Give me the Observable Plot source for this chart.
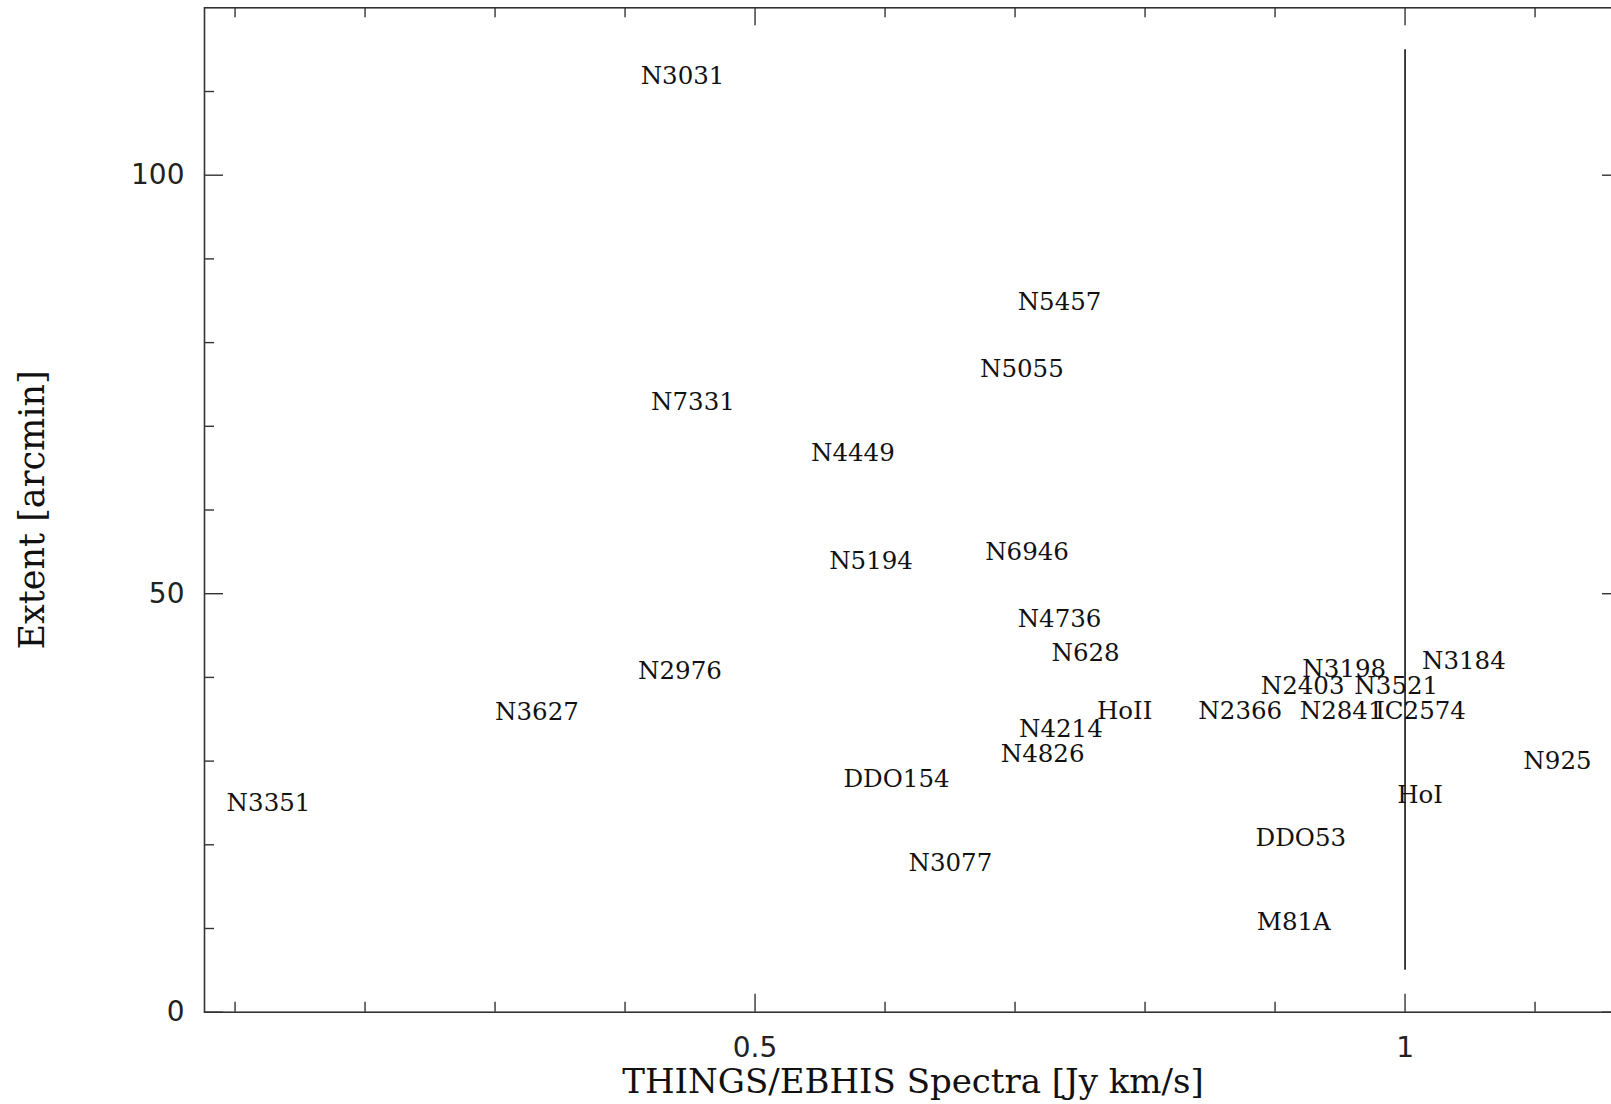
<!DOCTYPE html>
<html>
<head>
<meta charset="utf-8">
<script src="https://cdn.jsdelivr.net/npm/d3@7"></script>
<script src="https://cdn.jsdelivr.net/npm/@observablehq/plot@0.6"></script>
<style>
  html, body { margin: 0; padding: 0; background: #fff; overflow: hidden; }
  #chart svg { display: block; }
</style>
</head>
<body>
<div id="chart"></div>
<script>
// Galaxy names, placed at (flux ratio, angular extent); each name starts at its point.
const galaxies = ["N3031", "N7331", "N4449", "N5457", "N5055", "N5194", "N6946",
  "N3351", "N3627", "N2976", "N4826", "DDO154", "N3077", "DDO53", "M81A",
  "N4736", "N628", "HoII", "N2366", "N4214", "N3198", "N3184", "N2403",
  "N3521", "N2841", "IC2574", "N925", "HoI"];
const fluxRatio = [0.412, 0.420, 0.543, 0.702, 0.673, 0.557, 0.677,
  0.0935, 0.300, 0.410, 0.689, 0.568, 0.618, 0.885, 0.886,
  0.702, 0.728, 0.763, 0.841, 0.703, 0.921, 1.013, 0.889,
  0.961, 0.919, 0.977, 1.091, 0.994];
const extentArcmin = [110.9, 72.0, 65.9, 83.9, 75.9, 53.0, 54.0,
  24.0, 34.9, 39.8, 29.9, 26.9, 16.9, 19.9, 9.8,
  46.0, 42.0, 35.0, 35.0, 32.9, 40.0, 41.0, 38.0,
  38.0, 35.0, 35.0, 29.1, 25.0];

// Axis ranges and ticks
const xDomain = [0.0765, 1.1665];
const yDomain = [0, 120];
const xMajorTicks = [0.5, 1];
const xMinorTicks = [0.1, 0.2, 0.3, 0.4, 0.6, 0.7, 0.8, 0.9, 1.1];
const yMajorTicks = [0, 50, 100];
const yMinorTicks = [10, 20, 30, 40, 60, 70, 80, 90, 110];

// Unity ratio reference line
const unityX = [1];
const unitySpan = [5, 115];

const xTitle = "THINGS/EBHIS Spectra [Jy km/s]";
const yTitle = "Extent [arcmin]";

const points = galaxies.map((name, i) => ({name, x: fluxRatio[i], y: extentArcmin[i]}));

const W = 1611, H = 1104;
const mL = 204, mR = -10, mT = 7.3, mB = 92.3;
const plotW = W - mL - mR;
const plotH = H - mT - mB;

const ink = "#333";
const serif = "DejaVu Serif";
const sans = "DejaVu Sans";

const chart = Plot.plot({
  width: W,
  height: H,
  marginLeft: mL,
  marginRight: mR,
  marginTop: mT,
  marginBottom: mB,
  style: {background: "white"},
  x: {domain: xDomain, axis: null},
  y: {domain: yDomain, axis: null},
  marks: [
    Plot.frame({stroke: ink, strokeWidth: 1.6}),
    // inward ticks on all four sides
    Plot.tickY(yMajorTicks, {y: d => d, stroke: ink, strokeWidth: 1.4, insetRight: plotW - 19}),
    Plot.tickY(yMinorTicks, {y: d => d, stroke: ink, strokeWidth: 1.4, insetRight: plotW - 10}),
    Plot.tickY(yMajorTicks, {y: d => d, stroke: ink, strokeWidth: 1.4, insetLeft: plotW - 19}),
    Plot.tickY(yMinorTicks, {y: d => d, stroke: ink, strokeWidth: 1.4, insetLeft: plotW - 10}),
    Plot.tickX(xMajorTicks, {x: d => d, stroke: ink, strokeWidth: 1.4, insetTop: plotH - 18}),
    Plot.tickX(xMinorTicks, {x: d => d, stroke: ink, strokeWidth: 1.4, insetTop: plotH - 10}),
    Plot.tickX(xMajorTicks, {x: d => d, stroke: ink, strokeWidth: 1.4, insetBottom: plotH - 18}),
    Plot.tickX(xMinorTicks, {x: d => d, stroke: ink, strokeWidth: 1.4, insetBottom: plotH - 10}),
    // tick labels
    Plot.axisY(yMajorTicks, {anchor: "left", tickSize: 0, tickPadding: 20, fontSize: 28,
      fontFamily: sans, fill: "#222", label: null, tickFormat: d => String(d)}),
    Plot.axisX(xMajorTicks, {anchor: "bottom", tickSize: 0, tickPadding: 25, fontSize: 28,
      fontFamily: sans, fill: "#222", label: null, tickFormat: d => String(d)}),
    // unity line
    Plot.ruleX(unityX, {x: d => d, y1: unitySpan[0], y2: unitySpan[1], stroke: "#111", strokeWidth: 1.6}),
    // galaxy names
    Plot.text(points, {x: "x", y: "y", text: "name", textAnchor: "start", lineAnchor: "bottom",
      fontFamily: serif, fontSize: 24.5, fill: "#111"}),
    // axis titles
    Plot.text([xTitle], {frameAnchor: "bottom", dy: 81, textAnchor: "middle", lineAnchor: "bottom",
      fontFamily: serif, fontSize: 34, fill: "#111"}),
    Plot.text([yTitle], {frameAnchor: "left", dx: -161, rotate: -90, textAnchor: "middle", lineAnchor: "bottom",
      fontFamily: serif, fontSize: 35, fill: "#111"})
  ]
});

document.getElementById("chart").append(chart);
</script>
</body>
</html>
